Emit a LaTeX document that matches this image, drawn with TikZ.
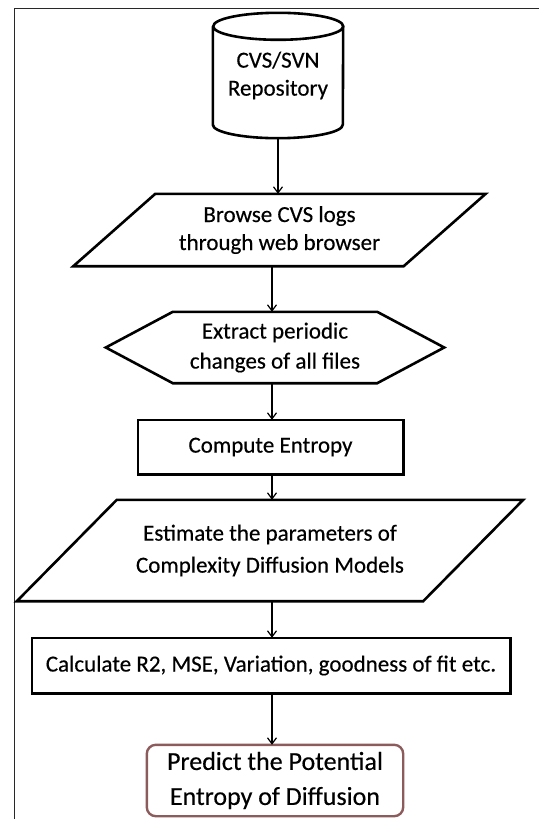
\documentclass[tikz,border=0pt]{standalone}
\usepackage{fontspec}
\setmainfont{Carlito}[FakeBold=0.35]
\usetikzlibrary{arrows.meta}
\definecolor{framegray}{RGB}{40,40,40}
\definecolor{endbrown}{RGB}{140,92,92}
\begin{document}
\begin{tikzpicture}[x=1pt,y=1pt,
  box/.style={draw=none,minimum width=#1,inner sep=0pt,align=center,
    font=\fontsize{23}{28}\selectfont},
  outline/.style={line width=2.6pt,black,line join=miter},
  flow/.style={line width=1.2pt,-{Straight Barb[length=6pt,width=9pt]}},
  frame/.style={line width=1.8pt,framegray}]
\useasboundingbox (0,0) rectangle (539,-819);
% frame
\coordinate (fbl) at (14.5,-819);
\coordinate (ftl) at (14.5,-8.5);
\coordinate (ftr) at (539,-8.5);
\draw[frame] (fbl) -- (ftl) -- (ftr);
\coordinate (axis) at (272,0);
% repository cylinder
\node[box=130pt,minimum height=125pt] (repo) at (278,-75.5) {CVS/SVN\\Repository};
\draw[outline] ([yshift=-13.5pt]repo.north west) -- ([yshift=13.5pt]repo.south west)
  arc[start angle=180,end angle=360,x radius=65pt,y radius=13.5pt]
  -- ([yshift=-13.5pt]repo.north east)
  arc[start angle=0,end angle=180,x radius=65pt,y radius=13.5pt]
  arc[start angle=180,end angle=360,x radius=65pt,y radius=13.5pt];
% parallelogram 1
\node[box=330pt,minimum height=72pt] (browse) at (279.5,-230) {Browse CVS logs\\through web browser};
\draw[outline] ([xshift=41pt]browse.north west) -- ([xshift=41pt]browse.north east)
  -- ([xshift=-41pt]browse.south east) -- ([xshift=-41pt]browse.south west) -- cycle;
% hexagon
\node[box=204pt,minimum height=71pt,font=\fontsize{23}{30}\selectfont] (extract) at (275,-347.5) {Extract periodic\\changes of all files};
\draw[outline] (extract.north west) -- (extract.north east) -- ([xshift=67pt]extract.east)
  -- (extract.south east) -- (extract.south west) -- ([xshift=-67pt]extract.west) -- cycle;
% rectangle 1
\node[box=265pt,minimum height=54pt] (entropy) at (270.5,-447) {Compute Entropy};
\draw[outline] (entropy.north west) rectangle (entropy.south east);
% parallelogram 2
\node[box=406pt,minimum height=101pt,font=\fontsize{23}{32}\selectfont] (estimate) at (270,-550.5) {Estimate the parameters of\\Complexity Diffusion Models};
\draw[outline] ([xshift=50pt]estimate.north west) -- ([xshift=50pt]estimate.north east)
  -- ([xshift=-50pt]estimate.south east) -- ([xshift=-50pt]estimate.south west) -- cycle;
% rectangle 2
\node[box=478pt,minimum height=55pt] (calc) at (271,-665.5) {Calculate R2, MSE, Variation, goodness of fit etc.};
\draw[outline] (calc.north west) rectangle (calc.south east);
% final
\node[box=256pt,minimum height=71pt,font=\fontsize{26}{35}\selectfont] (predict) at (275,-780.5) {Predict the Potential\\Entropy of Diffusion};
\draw[line width=2.4pt,endbrown,rounded corners=9pt] (predict.north west) rectangle (predict.south east);
% connectors
\draw[flow] (repo.south) -- (repo.south |- browse.north);
\draw[flow] (browse.south -| axis) -- (extract.north -| axis);
\draw[flow] (extract.south -| axis) -- (entropy.north -| axis);
\draw[flow] (entropy.south -| axis) -- (estimate.north -| axis);
\draw[flow] (estimate.south -| axis) -- (calc.north -| axis);
\draw[flow] (calc.south -| axis) -- (predict.north -| axis);
\end{tikzpicture}
\end{document}
